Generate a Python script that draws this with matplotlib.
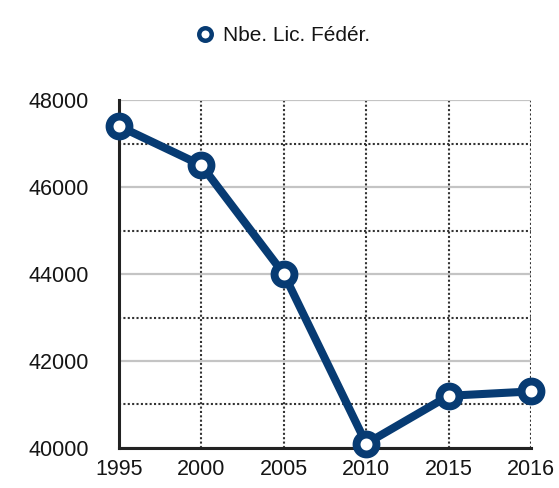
import matplotlib.pyplot as plt
from matplotlib.lines import Line2D
from matplotlib.ticker import MultipleLocator

years = ["1995", "2000", "2005", "2010", "2015", "2016"]
licences = [47400, 46500, 44000, 40100, 41200, 41300]
series_name = "Nbe. Lic. Fédér."

navy = "#073b73"

plt.rcParams['font.family'] = ['Liberation Sans', 'DejaVu Sans']

fig = plt.figure(figsize=(5.59, 4.88), dpi=100)
ax = fig.add_axes([0.213, 0.082, 0.737, 0.713])

x = list(range(len(years)))
ax.plot(x, licences, color=navy, lw=5.8, marker='o', ms=14.3, mew=5.7,
        mfc='white', mec=navy, clip_on=False, zorder=5)

ax.set_xlim(0, len(years) - 1)
ax.set_ylim(40000, 48000)
ax.set_xticks(x)
ax.set_xticklabels(years)
ax.yaxis.set_major_locator(MultipleLocator(2000))
ax.yaxis.set_minor_locator(MultipleLocator(1000))

# grid: solid light grey on majors, dotted on minors and x
ax.grid(axis='y', which='major', color='#c4c4c4', lw=1.6, ls='-')
ax.grid(axis='y', which='minor', color='#333333', lw=1.5, ls=(0, (1, 1.1)))
ax.grid(axis='x', which='major', color='#333333', lw=1.5, ls=(0, (1, 1.1)))
ax.set_axisbelow(True)

ax.tick_params(axis='both', which='both', length=0, labelsize=15.5, colors='#151515')
ax.tick_params(axis='y', pad=22)
ax.tick_params(axis='x', pad=8)

for side in ['top', 'right']:
    ax.spines[side].set_visible(False)
for side in ['left', 'bottom']:
    ax.spines[side].set_color('#222222')
    ax.spines[side].set_linewidth(2.2)

handle = Line2D([], [], ls='none', marker='o', ms=9, mew=3.2, mfc='white', mec=navy)
fig.legend([handle], [series_name], loc='upper center', bbox_to_anchor=(0.505, 0.985),
           frameon=False, fontsize=15, handletextpad=0.4, handlelength=1.0,
           labelcolor='#151515')

fig.savefig("out.png", dpi=100)
